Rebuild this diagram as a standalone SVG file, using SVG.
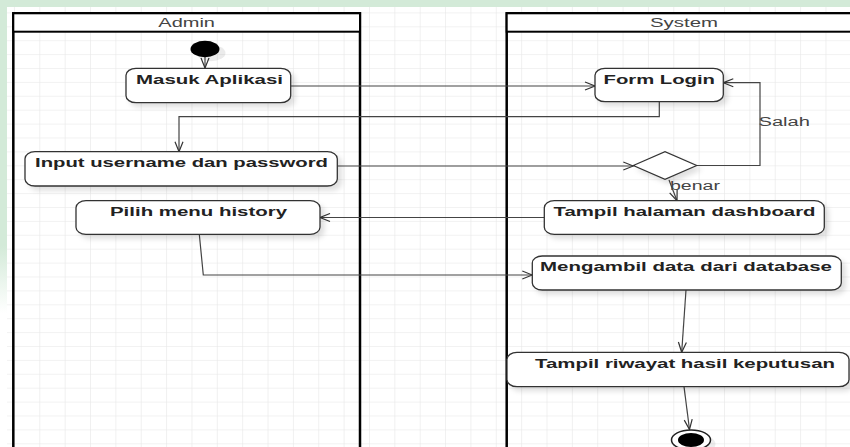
<svg xmlns="http://www.w3.org/2000/svg" width="850" height="447" viewBox="0 0 850 447">
  <defs>
    <pattern id="grid" patternUnits="userSpaceOnUse" x="39.3" y="12.4" width="25.36" height="13.9">
      <path d="M0,0 V13.9 M0,0 H25.36" fill="none" stroke="#e6e6e6" stroke-width="1.2"/>
    </pattern>
    <linearGradient id="leftFade" x1="0" y1="0" x2="0" y2="1">
      <stop offset="0" stop-color="#d3ead8"/>
      <stop offset="0.55" stop-color="#d3ead8"/>
      <stop offset="0.7" stop-color="#ffffff"/>
    </linearGradient>
    <filter id="shadow" x="-10%" y="-20%" width="130%" height="160%">
      <feDropShadow dx="4" dy="4" stdDeviation="2.5" flood-color="#000" flood-opacity="0.12"/>
    </filter>
    <marker id="open" viewBox="0 0 12 10" markerWidth="12" markerHeight="10" refX="11" refY="5" orient="auto" markerUnits="userSpaceOnUse">
      <path d="M1,1 L11,5 L1,9" fill="none" stroke="#333" stroke-width="1.2"/>
    </marker>
  </defs>
  <style>
    .lane { fill: none; stroke: #000; stroke-width: 2.5; }
    .head { fill: #fff; stroke: #000; stroke-width: 2; }
    .lanetxt { font-family: "Liberation Sans", Arial, sans-serif; font-size: 12px; fill: #444; }
    .box { fill: #fff; stroke: #333; stroke-width: 1.3; filter: url(#shadow); }
    .lbl { font-family: "Liberation Sans", Arial, sans-serif; font-size: 13px; font-weight: bold; fill: #222; }
    .guard { font-family: "Liberation Sans", Arial, sans-serif; font-size: 12.5px; fill: #444; }
    .conn path { fill: none; stroke: #444; stroke-width: 1.2; marker-end: url(#open); }
    .conn path.plain { marker-end: none; }
  </style>

  <!-- background -->
  <rect x="0" y="0" width="850" height="447" fill="#fff"/>
  <rect x="0" y="0" width="850" height="447" fill="url(#grid)"/>
  <rect x="0" y="0" width="850" height="7" fill="#d3ead8"/>
  <rect x="0" y="0" width="7" height="447" fill="url(#leftFade)"/>

  <!-- swimlanes -->
  <g id="lane-admin">
    <rect class="lane" x="13.3" y="13.3" width="346.7" height="460"/>
    <rect class="head" x="13.3" y="13.3" width="346.7" height="18.4"/>
    <text class="lanetxt" x="158.3" y="27" textLength="56.7" lengthAdjust="spacingAndGlyphs">Admin</text>
  </g>
  <g id="lane-system">
    <rect class="lane" x="506.7" y="13.3" width="400" height="460"/>
    <rect class="head" x="506.7" y="13.3" width="400" height="18.4"/>
    <text class="lanetxt" x="650" y="27" textLength="68" lengthAdjust="spacingAndGlyphs">System</text>
  </g>

  <!-- connectors -->
  <g id="connectors" class="conn">
    <path d="M205,57 L205,68"/>
    <path d="M290.7,86 L595,86"/>
    <path d="M659.3,101.7 L659.3,116.7 L179,116.7 L179,151.7"/>
    <path d="M337.3,166 L633.3,166"/>
    <path d="M696.7,165.5 L760,165.5 L760,82.7 L723.3,82.7"/>
    <path d="M669,180 L677,200.7"/>
    <path d="M544.3,217.5 L320,217.5"/>
    <path d="M199.3,234.3 L203.3,275 L532.3,275"/>
    <path d="M686,290 L681.7,352.3"/>
    <path d="M684,386.7 L689.5,429.5"/>
    <text class="guard" x="758.5" y="126" textLength="51.5" lengthAdjust="spacingAndGlyphs">Salah</text>
    <text class="guard" x="670" y="190" textLength="50" lengthAdjust="spacingAndGlyphs">benar</text>
  </g>

  <!-- start -->
  <g id="start">
    <ellipse cx="211" cy="53" rx="14.5" ry="8.2" fill="#000" opacity="0.08"/>
    <ellipse cx="205" cy="49" rx="14.5" ry="8.2" fill="#000"/>
  </g>

  <g id="masuk-aplikasi">
    <rect class="box" x="126" y="68.3" width="164.7" height="34.4" rx="10" ry="7"/>
    <text class="lbl" x="136" y="84" textLength="147" lengthAdjust="spacingAndGlyphs">Masuk Aplikasi</text>
  </g>

  <g id="form-login">
    <rect class="box" x="595" y="68.3" width="128.3" height="33.4" rx="10" ry="7"/>
    <text class="lbl" x="603.5" y="84" textLength="111.5" lengthAdjust="spacingAndGlyphs">Form Login</text>
  </g>

  <g id="input-login">
    <rect class="box" x="25" y="151.7" width="312.3" height="34.3" rx="10" ry="7"/>
    <text class="lbl" x="35" y="167" textLength="293" lengthAdjust="spacingAndGlyphs">Input username dan password</text>
  </g>

  <g id="decision">
    <polygon points="633.3,165.5 665,151.7 696.7,165.5 665,179.3" fill="#fff" stroke="#333" stroke-width="1.2" filter="url(#shadow)"/>
  </g>

  <g id="pilih-menu">
    <rect class="box" x="76" y="200.7" width="244" height="33.6" rx="10" ry="7"/>
    <text class="lbl" x="110" y="216" textLength="177" lengthAdjust="spacingAndGlyphs">Pilih menu history</text>
  </g>

  <g id="tampil-dashboard">
    <rect class="box" x="544.3" y="200.7" width="280" height="33.6" rx="10" ry="7"/>
    <text class="lbl" x="553.5" y="216" textLength="262" lengthAdjust="spacingAndGlyphs">Tampil halaman dashboard</text>
  </g>

  <g id="ambil-data">
    <rect class="box" x="532.3" y="256" width="309" height="34" rx="10" ry="7"/>
    <text class="lbl" x="540" y="270.7" textLength="292" lengthAdjust="spacingAndGlyphs">Mengambil data dari database</text>
  </g>

  <g id="tampil-riwayat">
    <rect class="box" x="507" y="352.3" width="342" height="34.4" rx="10" ry="7"/>
    <text class="lbl" x="535" y="368.3" textLength="300" lengthAdjust="spacingAndGlyphs">Tampil riwayat hasil keputusan</text>
  </g>

  <!-- end -->
  <g id="end">
    <ellipse cx="696" cy="444" rx="19.5" ry="10" fill="#000" opacity="0.07"/>
    <ellipse cx="691" cy="440" rx="19.5" ry="10" fill="#fff" stroke="#222" stroke-width="1.5"/>
    <ellipse cx="691" cy="440" rx="13" ry="7" fill="#000"/>
  </g>
</svg>
